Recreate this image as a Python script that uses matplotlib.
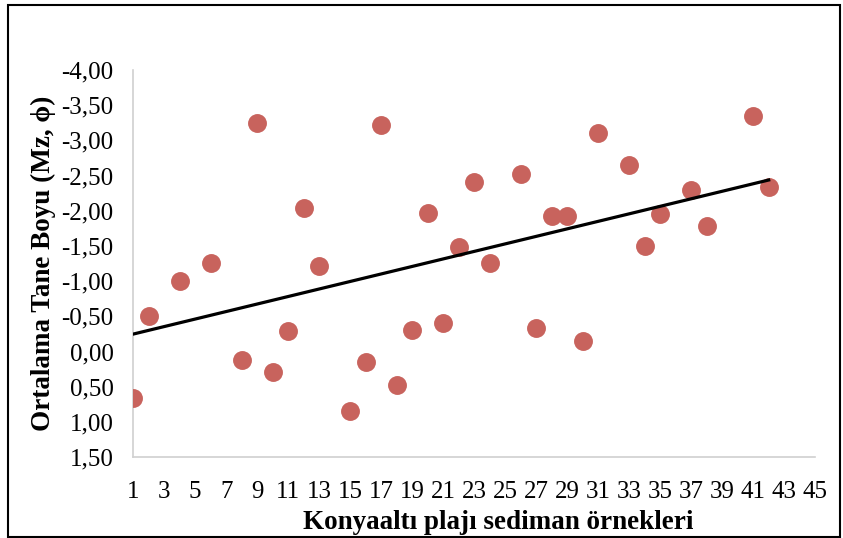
import matplotlib.pyplot as plt
import numpy as np
from matplotlib.ticker import FuncFormatter, MultipleLocator
from matplotlib.patches import Rectangle

plt.rcParams['font.family'] = ['Liberation Serif', 'DejaVu Serif']

# örnek numarası ve ortalama tane boyu (Mz, phi)
ornek = [1, 2, 4, 6, 8, 9, 10, 11, 12, 13, 15, 16, 17, 18, 19, 20, 21, 22, 23,
         24, 26, 27, 28, 29, 30, 31, 33, 34, 35, 37, 38, 41, 42]
mz = [0.66, -0.51, -1.01, -1.26, 0.12, -3.24, 0.29, -0.29, -2.04, -1.22, 0.84,
      0.15, -3.22, 0.47, -0.31, -1.97, -0.41, -1.48, -2.41,
      -1.26, -2.52, -0.33, -1.93, -1.93, -0.15, -3.10, -2.65, -1.50, -1.95,
      -2.30, -1.78, -3.35, -2.34]

fig = plt.figure(figsize=(8.43, 5.38), dpi=100)
ax = fig.add_axes([0.158, 0.150, 0.809, 0.720])

ax.scatter(ornek, mz, s=185, color='#C8635D', zorder=3, linewidths=0)

# doğrusal eğilim çizgisi
egim, kesisim = np.polyfit(ornek, mz, 1)
xt = np.array([ornek[0], ornek[-1]])
ax.plot(xt, egim * xt + kesisim, color='black', lw=2.3, zorder=4)

ax.set_xlim(1, 45)
ax.set_ylim(1.5, -4.0)
ax.set_xticks(range(1, 46, 2))
ax.yaxis.set_major_locator(MultipleLocator(0.5))
ax.yaxis.set_major_formatter(FuncFormatter(lambda v, p: f"{v:.2f}".replace('.', ',')))
ax.tick_params(length=0, labelsize=18)
ax.tick_params(axis='x', pad=17)
ax.tick_params(axis='y', pad=14)

for s in ['top', 'right']:
    ax.spines[s].set_visible(False)
for s in ['left', 'bottom']:
    ax.spines[s].set_color('#d0d0d0')
    ax.spines[s].set_linewidth(1.2)

ax.set_xlabel('Konyaaltı plajı sediman örnekleri', fontsize=19.5, fontweight='bold', labelpad=5)
ax.xaxis.label.set_x(0.535)
ax.set_ylabel('Ortalama Tane Boyu (Mz, ϕ)', fontsize=19.5, fontweight='bold', labelpad=4)

fig.patches.append(Rectangle((0.0095, 0.002), 0.987, 0.989, transform=fig.transFigure,
                             fill=False, edgecolor='black', lw=1.5))

fig.savefig('out.png', dpi=100)
